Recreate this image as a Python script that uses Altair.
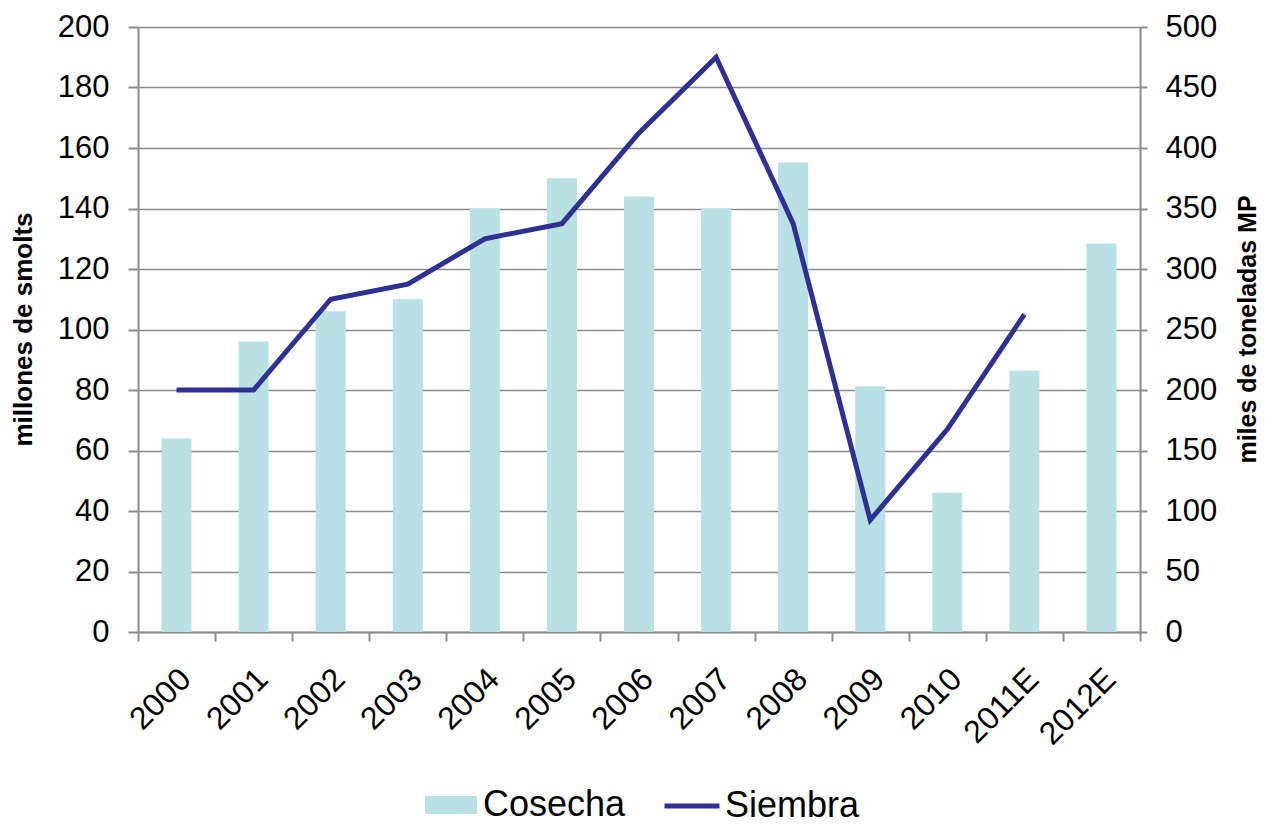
import altair as alt
import pandas as pd

years = ["2000", "2001", "2002", "2003", "2004", "2005", "2006",
         "2007", "2008", "2009", "2010", "2011E", "2012E"]
# Cosecha: miles de toneladas MP (eje derecho)
cosecha = [160, 240, 265, 275, 350, 375, 360, 350, 388, 203, 115, 216, 321]
# Siembra: millones de smolts (eje izquierdo)
siembra = [80, 80, 110, 115, 130, 135, 165, 190, 135, 37, 67, 105, None]

left_ticks = list(range(0, 201, 20))
right_ticks = list(range(0, 501, 50))

df = pd.DataFrame({"Año": years, "Cosecha": cosecha, "Siembra": siembra})

FONT = "Liberation Sans"
GRAY = "#8C8C8C"
TEAL = "#B9E0E3"
NAVY = "#2E3192"

x_enc = alt.X(
    "Año:N", sort=years, title=None,
    scale=alt.Scale(paddingInner=0, paddingOuter=0),
    axis=alt.Axis(labelAngle=315, labelFontSize=32, labelFont=FONT, labelColor="black",
                  tickBand="extent", tickSize=9, tickColor=GRAY, tickWidth=2,
                  domainColor=GRAY, domainWidth=2, labelPadding=22, labelOffset=-2,
                  grid=False),
)

bars = alt.Chart(df).transform_calculate(serie="'Cosecha'").mark_bar(size=30).encode(
    x=x_enc,
    y=alt.Y("Cosecha:Q", scale=alt.Scale(domain=[0, 500]),
            axis=alt.Axis(orient="right", values=right_ticks, grid=False,
                          title="miles de toneladas MP", titleFont=FONT, titleFontSize=25,
                          titleFontWeight="bold", titleColor="black", titleAngle=270,
                          titleX=107, titleY=302, titleAlign="center", titleBaseline="middle",
                          labelFont=FONT, labelFontSize=31, labelColor="black",
                          labelPadding=18, tickSize=7, tickColor=GRAY, tickWidth=2,
                          domainColor=GRAY, domainWidth=2)),
    fill=alt.Fill("serie:N", scale=alt.Scale(domain=["Cosecha"], range=[TEAL]),
                  legend=alt.Legend(title=None, orient="none", legendX=287, legendY=752,
                                    symbolType="M-1,-0.346H1V0.346H-1Z", symbolSize=2704,
                                    symbolStrokeWidth=0, labelFontSize=36, labelFont=FONT,
                                    labelColor="black", labelOffset=6, padding=0,
                                    labelLimit=300)),
)

line = alt.Chart(df).transform_filter("datum.Siembra != null").transform_calculate(
    serie2="'Siembra'").mark_line(strokeWidth=5).encode(
    x=x_enc,
    y=alt.Y("Siembra:Q", scale=alt.Scale(domain=[0, 200]),
            axis=alt.Axis(orient="left", values=left_ticks, grid=True,
                          gridColor=GRAY, gridWidth=1.5,
                          title="millones de smolts", titleFont=FONT, titleFontSize=26,
                          titleFontWeight="bold", titleColor="black", titleAngle=270,
                          titleX=-115, titleY=302, titleAlign="center", titleBaseline="middle",
                          labelFont=FONT, labelFontSize=31, labelColor="black",
                          labelPadding=19, tickSize=10, tickColor=GRAY, tickWidth=2,
                          domainColor=GRAY, domainWidth=2)),
    stroke=alt.Stroke("serie2:N", scale=alt.Scale(domain=["Siembra"], range=[NAVY]),
                      legend=alt.Legend(title=None, orient="none", legendX=524, legendY=749,
                                        symbolType="stroke", symbolSize=3025,
                                        symbolStrokeWidth=5, labelFontSize=36,
                                        labelFont=FONT, labelColor="black",
                                        labelOffset=3, padding=0, labelLimit=300)),
)

chart = alt.layer(bars, line).resolve_scale(y="independent").properties(
    width=1002, height=605,
    autosize=alt.AutoSizeParams(type="none"),
    padding={"left": 130, "top": 19, "right": 120, "bottom": 193},
).configure_view(stroke=None)

chart.save("out.html", embed_options={"renderer": "svg", "actions": False})
